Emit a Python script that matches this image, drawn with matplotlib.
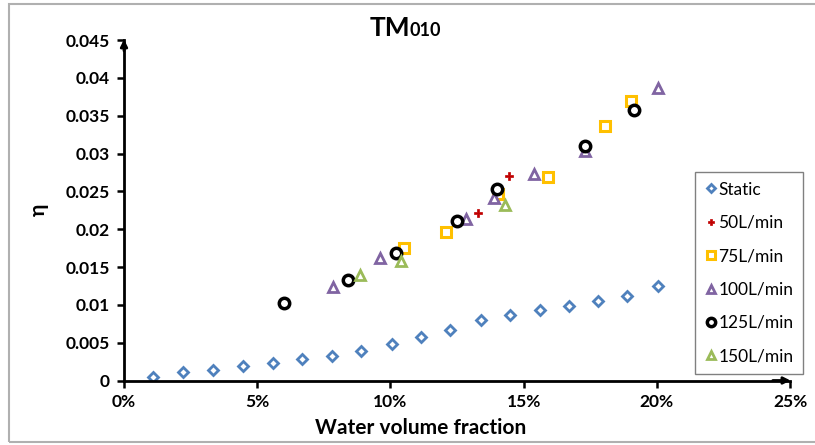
import matplotlib.pyplot as plt
from matplotlib.patches import Rectangle

plt.rcParams['font.family'] = ['Lato', 'DejaVu Sans']

# data (x in % water volume fraction)
static_x = [1.1, 2.2, 3.35, 4.45, 5.6, 6.7, 7.8, 8.9, 10.05, 11.15, 12.25, 13.4, 14.5, 15.6, 16.7, 17.8, 18.9, 20.05]
static_y = [0.0005, 0.0011, 0.0014, 0.0019, 0.0023, 0.0028, 0.0033, 0.0039, 0.0048,
            0.0057, 0.0067, 0.0080, 0.0086, 0.0093, 0.0099, 0.0105, 0.0112, 0.0125]
f50_x = [13.3, 14.45]
f50_y = [0.0222, 0.0270]
f75_x = [10.5, 12.1, 14.05, 15.9, 18.05, 19.05]
f75_y = [0.0175, 0.0196, 0.0246, 0.0269, 0.0337, 0.0369]
f100_x = [7.85, 9.6, 12.85, 13.9, 15.4, 17.3, 20.05]
f100_y = [0.0124, 0.0162, 0.0214, 0.0241, 0.0273, 0.0303, 0.0387]
f125_x = [6.0, 8.4, 10.2, 12.5, 14.0, 17.3, 19.15]
f125_y = [0.0102, 0.0133, 0.0169, 0.0211, 0.0253, 0.0310, 0.0358]
f150_x = [8.85, 10.4, 14.3]
f150_y = [0.0139, 0.0158, 0.0232]

x_ticks = [0, 5, 10, 15, 20, 25]
y_ticks = [0, 0.005, 0.01, 0.015, 0.02, 0.025, 0.03, 0.035, 0.04, 0.045]
y_labels = ['0', '0.005', '0.01', '0.015', '0.02', '0.025', '0.03', '0.035', '0.04', '0.045']

fig = plt.figure(figsize=(8.15, 4.45), dpi=100)
# chart border (right edge falls outside the picture)
fig.patches.append(Rectangle((0.011, 0.006), 1.0, 0.986, transform=fig.transFigure,
                             fill=False, edgecolor='#b0b0b0', linewidth=1.5))

ax = fig.add_axes([124 / 815, 1 - 380.5 / 445, 666 / 815, 340.5 / 445])

ax.plot(static_x, static_y, 'D', ms=5, mfc='white', mec='#4F81BD', mew=2, label='Static')
ax.plot(f50_x, f50_y, 'P', ms=6, mfc='#C00000', mec='#C00000', mew=0.5, label='50L/min')
ax.plot(f75_x, f75_y, 's', ms=7.5, mfc='white', mec='#FFC000', mew=2.2, label='75L/min')
ax.plot(f100_x, f100_y, '^', ms=7, mfc='white', mec='#8064A2', mew=2, label='100L/min')
ax.plot(f125_x, f125_y, 'o', ms=7.5, mfc='white', mec='black', mew=2.5, label='125L/min')
ax.plot(f150_x, f150_y, '^', ms=7, mfc='white', mec='#9BBB59', mew=2, label='150L/min')

ax.set_xlim(0, 25)
ax.set_ylim(0, 0.045)
ax.set_xticks(x_ticks)
ax.set_xticklabels([f'{t}%' for t in x_ticks])
ax.set_yticks(y_ticks)
ax.set_yticklabels(y_labels)
for lab in ax.get_xticklabels() + ax.get_yticklabels():
    lab.set_fontweight('bold')
    lab.set_fontsize(12.5)
ax.tick_params(direction='out', length=5, width=1.8, pad=5)

for s in ['top', 'right']:
    ax.spines[s].set_visible(False)
for s in ['left', 'bottom']:
    ax.spines[s].set_linewidth(2)

# arrow heads on the axes
ax.annotate('', xy=(0, 1.01), xytext=(0, 0.96), xycoords='axes fraction',
            arrowprops=dict(arrowstyle='-|>', color='black', lw=2, mutation_scale=10))
ax.annotate('', xy=(1.005, 0), xytext=(0.97, 0), xycoords='axes fraction',
            arrowprops=dict(arrowstyle='-|>', color='black', lw=2, mutation_scale=10))

ax.set_xlabel('Water volume fraction', fontsize=15, fontweight='bold')
ax.xaxis.set_label_coords(0.446, -0.11)
ax.set_ylabel('η', fontsize=15, fontweight='bold', labelpad=12)

# title TM010 with small "010"
fig.text(0.503, 0.92, 'TM', fontsize=19, fontweight='bold', ha='right', va='baseline')
fig.text(0.503, 0.92, '010', fontsize=13, fontweight='bold', ha='left', va='baseline')

leg = ax.legend(loc='upper right', bbox_to_anchor=(803 / 815, 1 - 172 / 445),
                bbox_transform=fig.transFigure, borderaxespad=0, fontsize=12.5,
                labelspacing=1.0, handletextpad=0.0, handlelength=0.8,
                borderpad=0.55, fancybox=False, framealpha=1, markerscale=0.8)
leg.get_frame().set_edgecolor('#808080')
leg.get_frame().set_linewidth(1)

plt.savefig('out.png', dpi=100)
